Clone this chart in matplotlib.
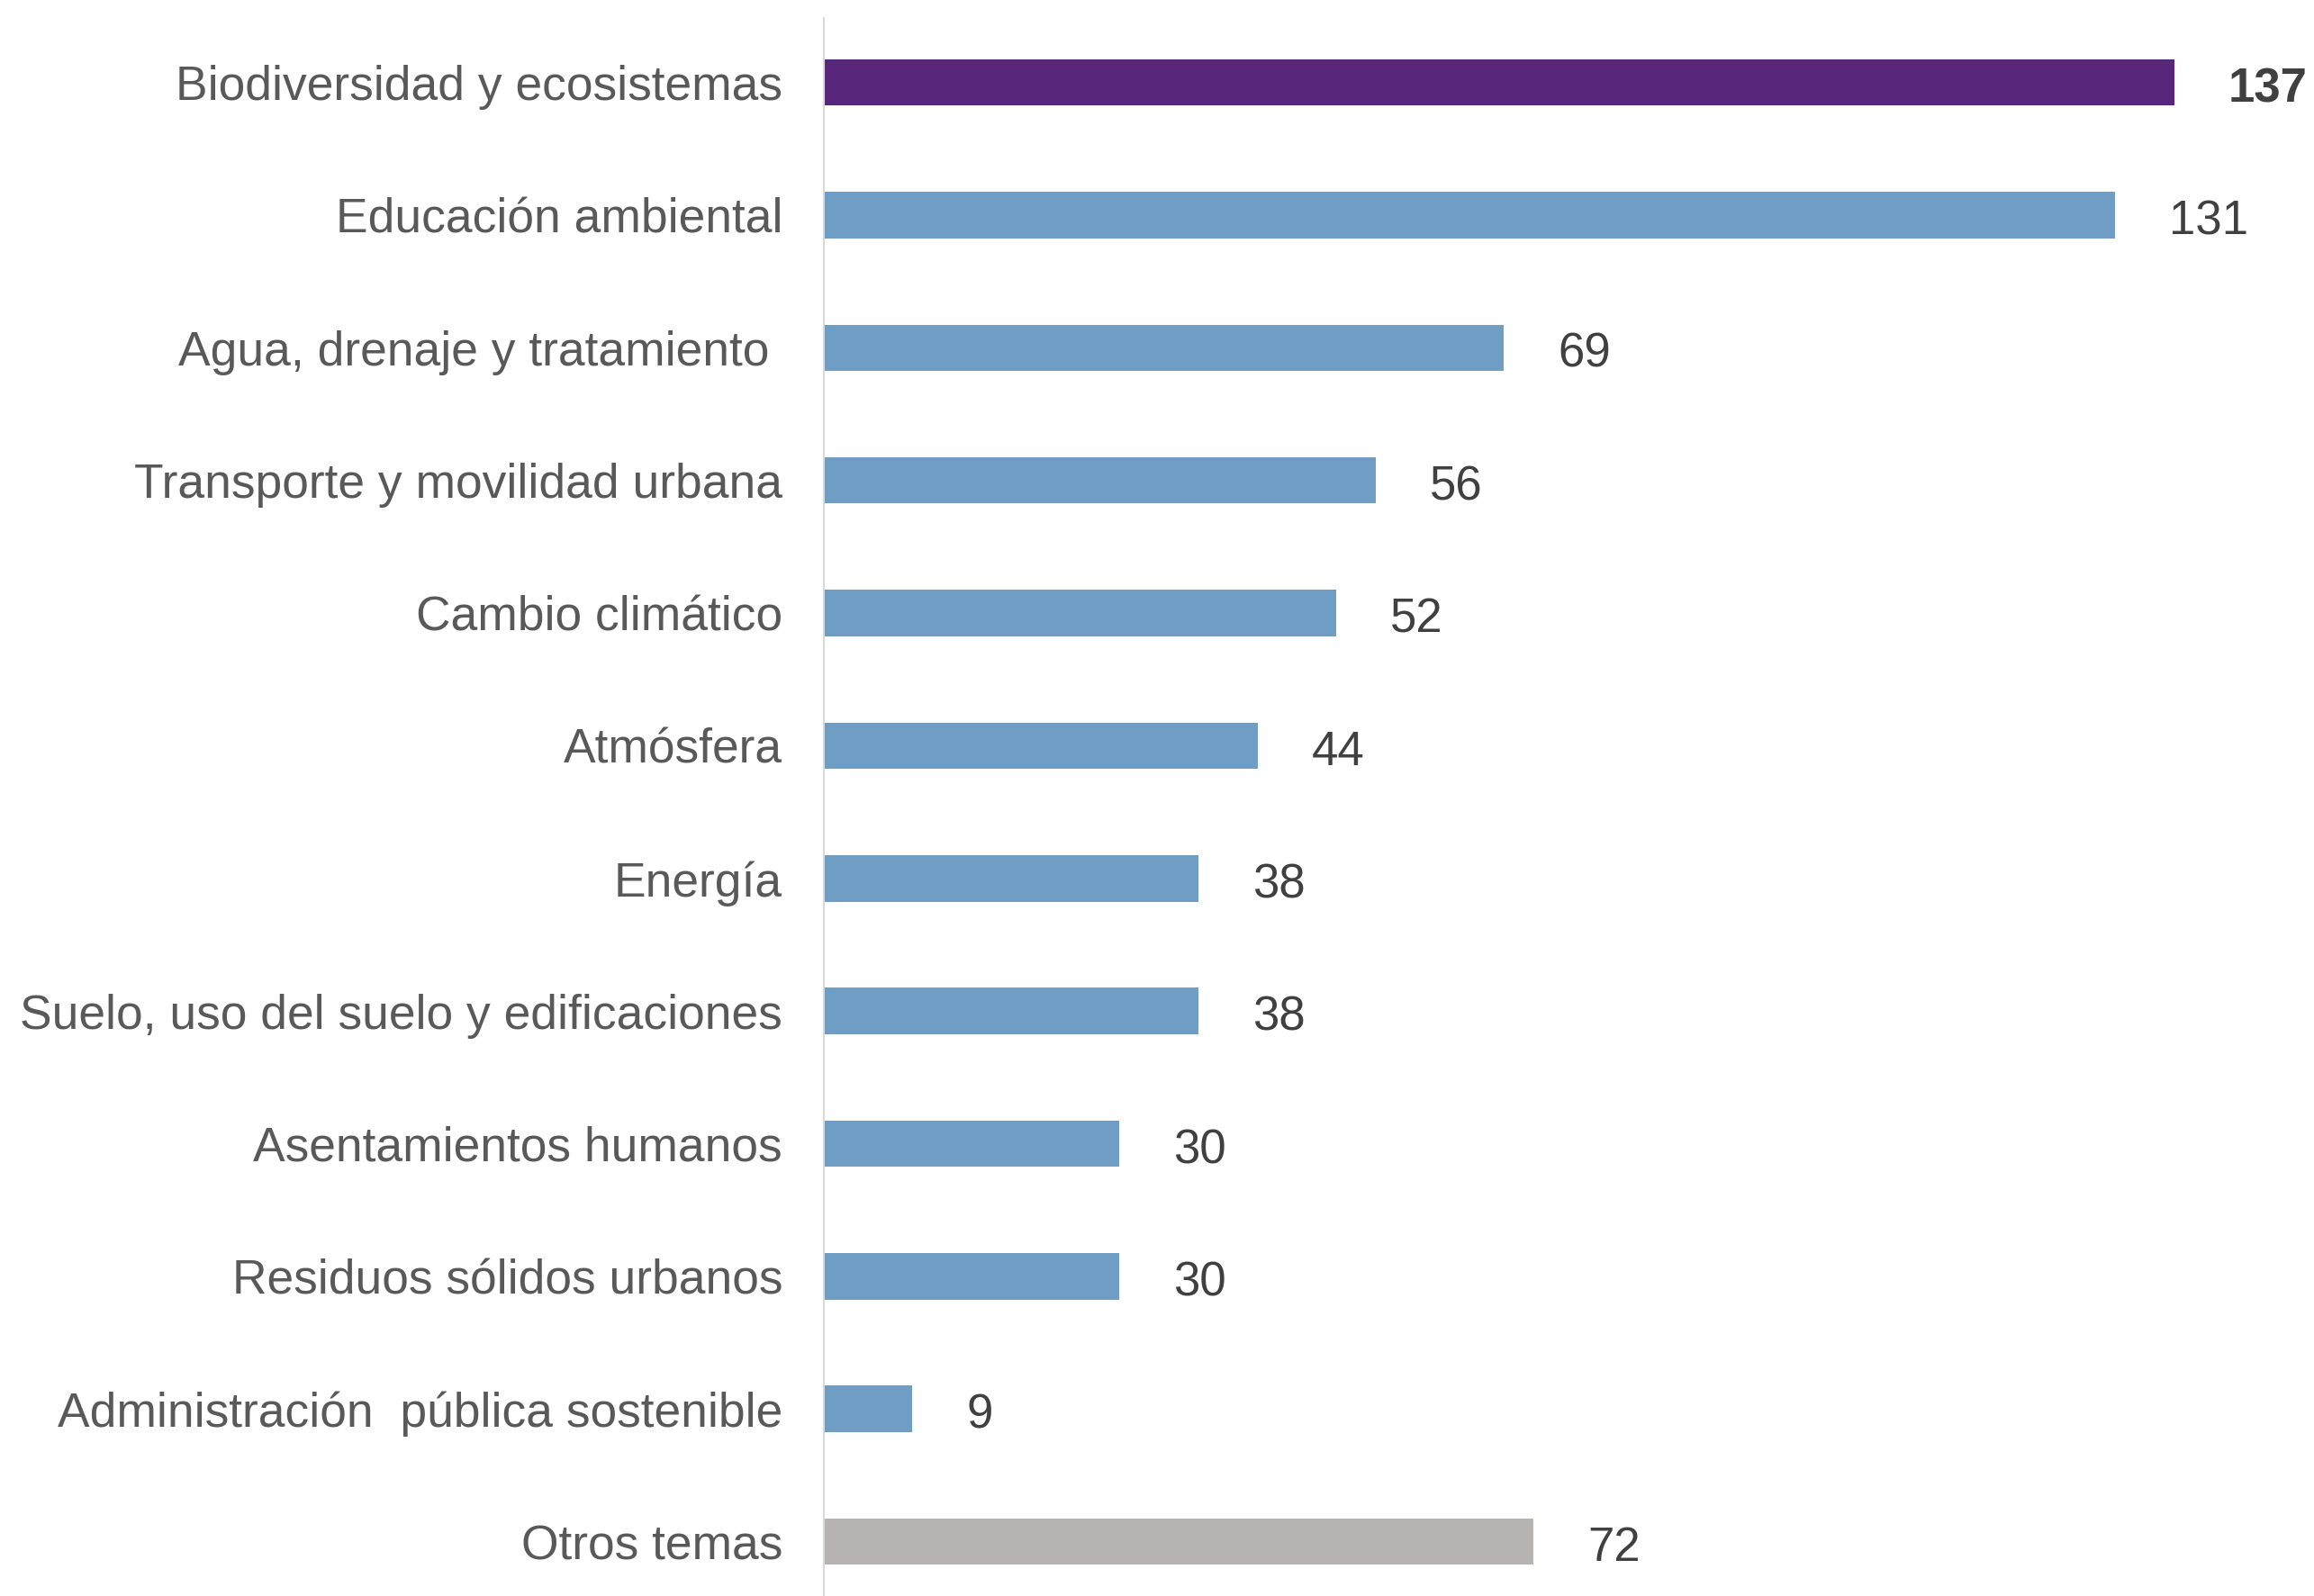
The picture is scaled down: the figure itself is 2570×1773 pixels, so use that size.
import matplotlib.pyplot as plt

# Data
categorias = ['Biodiversidad y ecosistemas', 'Educación ambiental',
              'Agua, drenaje y tratamiento ', 'Transporte y movilidad urbana',
              'Cambio climático', 'Atmósfera', 'Energía',
              'Suelo, uso del suelo y edificaciones', 'Asentamientos humanos',
              'Residuos sólidos urbanos', 'Administración  pública sostenible',
              'Otros temas']
valores = [137, 131, 69, 56, 52, 44, 38, 38, 30, 30, 9, 72]
colores = ['#58267A'] + ['#6F9DC3'] * 10 + ['#B8B3B3']

plt.rcParams['font.family'] = ['Liberation Sans', 'DejaVu Sans']

fig = plt.figure(figsize=(25.70, 17.73), dpi=100)
ax = fig.add_axes([0.356, 0.0, 0.644, 0.989])

y = range(len(categorias))
ax.barh(y, valores, height=0.35, color=colores)

ax.set_xlim(0, 151.2)
ax.set_ylim(len(categorias) - 0.59, -0.489)
ax.set_yticks(list(y))
ax.set_yticklabels(categorias, fontsize=38.4, color='#595959')
ax.tick_params(axis='y', length=0, pad=33)
ax.set_xticks([])

for s in ['top', 'right', 'bottom']:
    ax.spines[s].set_visible(False)
ax.spines['left'].set_color('#D9D9D9')
ax.spines['left'].set_linewidth(1.5)

# Value labels
for i, v in enumerate(valores):
    ax.annotate(str(v), (v, i), xytext=(43, -5.5), textcoords='offset points',
                va='center', ha='left', fontsize=38, color='#404040',
                fontweight='bold' if i == 0 else 'normal')

plt.savefig('out.png', dpi=100)
plt.close()
